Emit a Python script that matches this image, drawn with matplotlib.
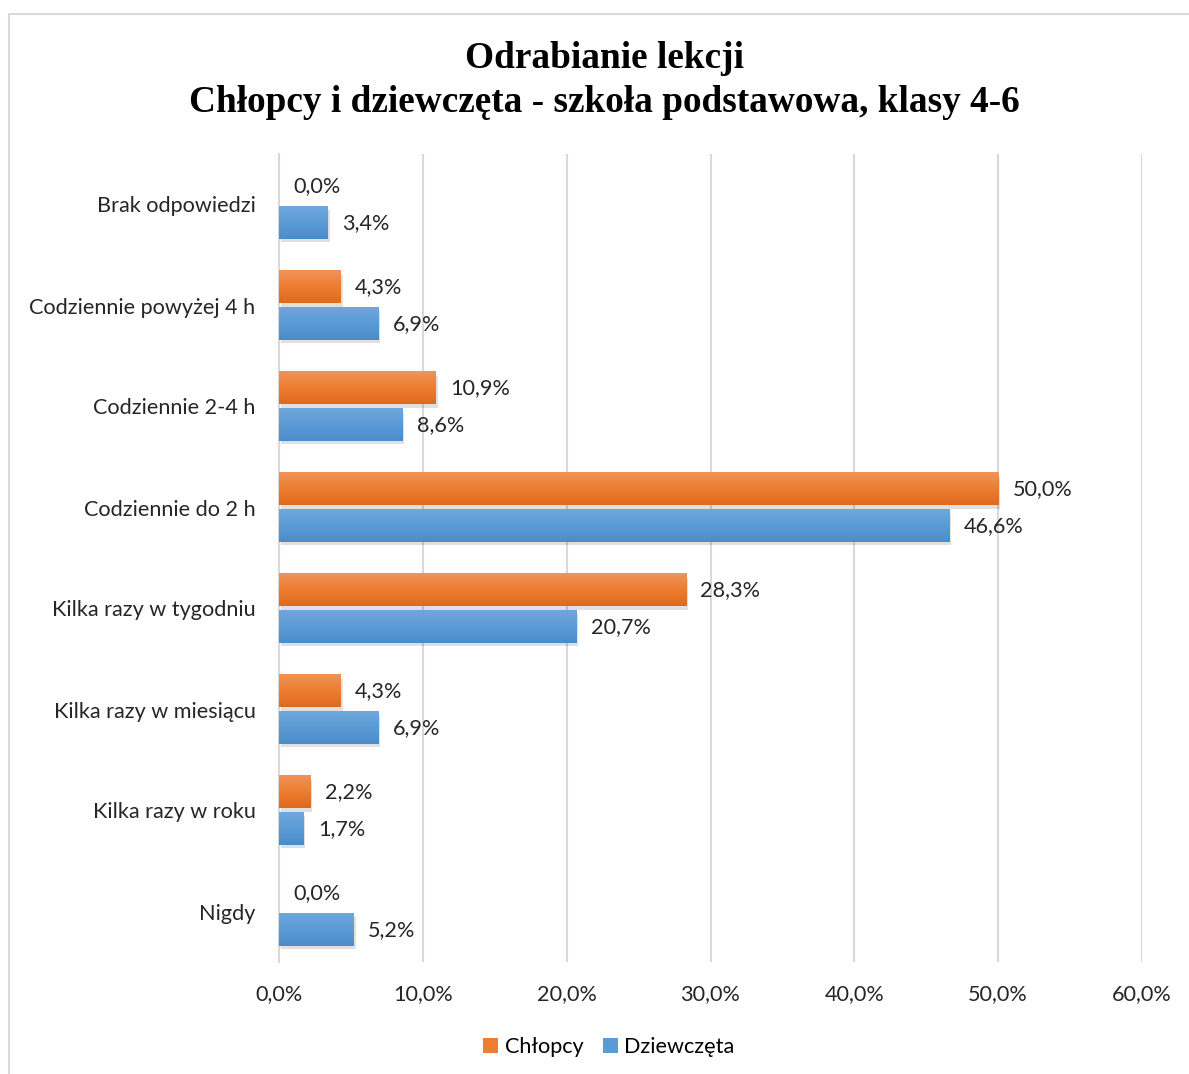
import matplotlib
matplotlib.use("Agg")
import matplotlib.pyplot as plt
import numpy as np
from matplotlib.patches import Rectangle
from matplotlib.colors import LinearSegmentedColormap

categories = ["Brak odpowiedzi", "Codziennie powyżej 4 h", "Codziennie 2-4 h",
              "Codziennie do 2 h", "Kilka razy w tygodniu", "Kilka razy w miesiącu",
              "Kilka razy w roku", "Nigdy"]
chlopcy = [0.0, 4.3, 10.9, 50.0, 28.3, 4.3, 2.2, 0.0]
dziewczeta = [3.4, 6.9, 8.6, 46.6, 20.7, 6.9, 1.7, 5.2]
xticks = [0, 10, 20, 30, 40, 50, 60]
title = "Odrabianie lekcji\nChłopcy i dziewczęta - szkoła podstawowa, klasy 4-6"

plt.rcParams['font.family'] = ['Lato', 'DejaVu Sans']
FS = 15.6

fig = plt.figure(figsize=(11.89, 10.74), dpi=100)
ax = fig.add_axes([279/1189, 1-962/1074, (1142-279)/1189, (962-154)/1074])

# chart border
fig.patches.append(Rectangle((9/1189, -0.01), 1.2, 1-14/1074+0.01, transform=fig.transFigure,
                             fill=False, edgecolor='#d9d9d9', linewidth=1.5))

orange = '#ED7D31'
blue = '#5B9BD5'
cm_or = LinearSegmentedColormap.from_list('o', ['#F19358', '#ED7D31', '#E06A1C'])
cm_bl = LinearSegmentedColormap.from_list('b', ['#6FA7DC', '#5B9BD5', '#4A8BCB'])

n = len(categories)
y = np.arange(n)
h = 0.32
off = 0.18

def draw_bars(vals, ys, cmap, color, label):
    bars = ax.barh(ys, vals, height=h, color=color, label=label, zorder=3)
    for b in bars:
        x0, y0 = b.get_x(), b.get_y()
        w, hh = b.get_width(), b.get_height()
        if w <= 0:
            continue
        ax.add_patch(Rectangle((x0 + 0.12, y0 + 0.035), w, hh, color='#000000', alpha=0.12,
                               zorder=2, linewidth=0))
        grad = np.linspace(0, 1, 50).reshape(-1, 1)
        ax.imshow(grad, extent=(x0, x0 + w, y0, y0 + hh), cmap=cmap, aspect='auto',
                  zorder=4, origin='lower')
    return bars

draw_bars(chlopcy, y - off, cm_or, orange, "Chłopcy")
draw_bars(dziewczeta, y + off, cm_bl, blue, "Dziewczęta")

for i in range(n):
    ax.text(chlopcy[i] + 1.0, y[i] - off, f"{chlopcy[i]:.1f}%".replace('.', ','),
            va='center', ha='left', fontsize=FS, color='#262626', zorder=5)
    ax.text(dziewczeta[i] + 1.0, y[i] + off, f"{dziewczeta[i]:.1f}%".replace('.', ','),
            va='center', ha='left', fontsize=FS, color='#262626', zorder=5)

ax.set_xlim(0, 60)
ax.set_ylim(n - 0.5, -0.5)
ax.set_xticks(xticks)
ax.set_xticklabels([f"{t:.1f}%".replace('.', ',') for t in xticks], fontsize=FS, color='#262626')
ax.set_yticks(y)
ax.set_yticklabels(categories, fontsize=FS, color='#262626')
ax.tick_params(axis='both', length=0)
ax.tick_params(axis='x', pad=16)
ax.tick_params(axis='y', pad=17)
for s in ['top', 'right', 'bottom']:
    ax.spines[s].set_visible(False)
ax.spines['left'].set_color('#d9d9d9')
ax.spines['left'].set_linewidth(1.5)
ax.xaxis.grid(True, color='#d9d9d9', linewidth=1.5, zorder=0)
ax.set_axisbelow(True)

fig.text(0.508, 1-80.5/1074, title, ha='center', va='center', fontsize=26.8, fontweight='bold',
         family='Liberation Serif', linespacing=1.3)

handles, labels = ax.get_legend_handles_labels()
fig.legend(handles, labels, loc='center', bbox_to_anchor=(0.512, 1-1047/1074), ncol=2,
           frameon=False, fontsize=FS, handlelength=0.7, handleheight=0.7,
           handletextpad=0.3, columnspacing=0.9)

fig.savefig("out.png", dpi=100)
